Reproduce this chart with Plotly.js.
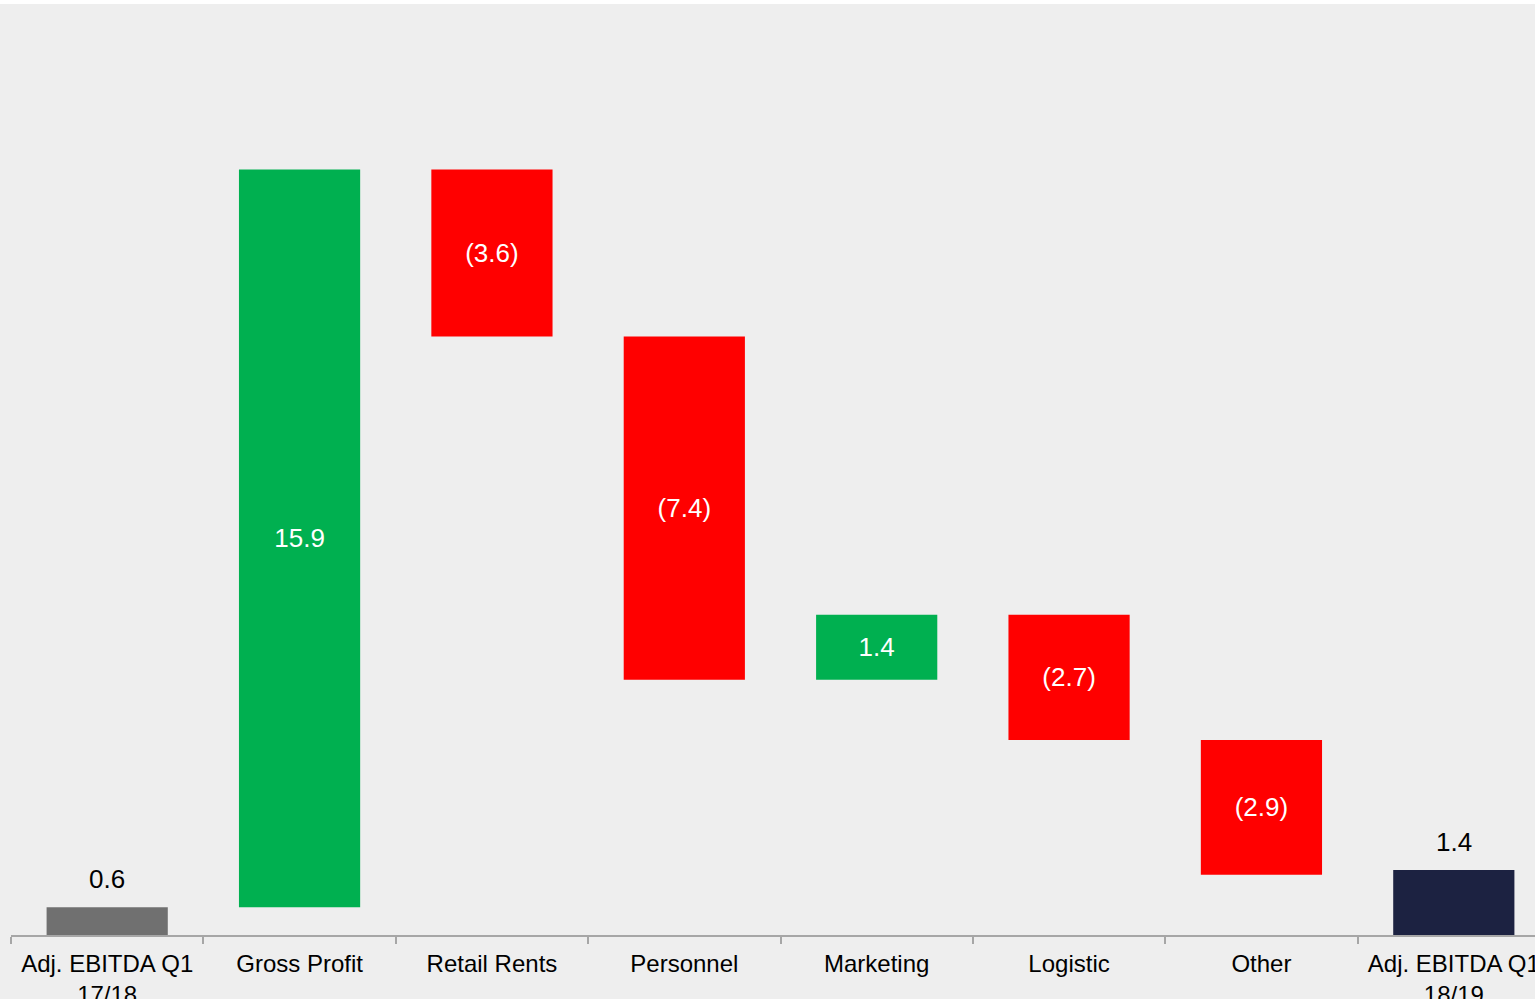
<!DOCTYPE html>
<html>
<head>
<meta charset="utf-8">
<script src="https://cdn.plot.ly/plotly-3.0.1.min.js"></script>
<style>
html,body{margin:0;padding:0;background:#ffffff;overflow:hidden;width:1535px;height:999px;}
#chart{position:absolute;left:0;top:4px;width:1552px;height:995px;}
</style>
</head>
<body>
<div id="chart"></div>
<script>
const categories = ["Adj. EBITDA Q1<br>17/18", "Gross Profit", "Retail Rents", "Personnel", "Marketing", "Logistic", "Other", "Adj. EBITDA Q1<br>18/19"];
const measures = ["absolute", "relative", "relative", "relative", "relative", "relative", "relative", "absolute"];
const values = [0.6, 15.9, -3.6, -7.4, 1.4, -2.7, -2.9, 1.4];
const barColors = ["#707070", "#00b050", "#ff0000", "#ff0000", "#00b050", "#ff0000", "#ff0000", "#1c2241"];

const FONT = "Liberation Sans, Arial, sans-serif";

// build bar bases / heights from the waterfall values
let running = 0;
const bases = [], heights = [], insideLabels = [], annotations = [];
values.forEach((v, i) => {
  const lbl = v < 0 ? "(" + Math.abs(v).toFixed(1) + ")" : v.toFixed(1);
  if (measures[i] === "absolute") {
    bases.push(0); heights.push(v); running = v;
    insideLabels.push("");
    annotations.push({
      x: categories[i], y: v, xref: "x", yref: "y",
      text: lbl, showarrow: false, yanchor: "bottom", yshift: 11,
      font: {family: FONT, size: 26, color: "#000000"}
    });
  } else {
    const start = running;
    running = running + v;
    bases.push(Math.min(start, running));
    heights.push(Math.abs(v));
    insideLabels.push(lbl);
  }
});

const trace = {
  type: "bar",
  x: categories,
  y: heights,
  base: bases,
  marker: {color: barColors},
  text: insideLabels,
  textposition: "inside",
  insidetextanchor: "middle",
  insidetextfont: {color: "#ffffff", size: 26, family: FONT},
  textangle: 0,
  cliponaxis: false,
  hoverinfo: "skip"
};

const layout = {
  width: 1552,
  height: 995,
  margin: {l: 11, r: 2, t: 3, b: 64},
  paper_bgcolor: "#eeeeee",
  plot_bgcolor: "#eeeeee",
  bargap: 0.37,
  showlegend: false,
  font: {family: FONT, color: "#000000", size: 24},
  annotations: annotations,
  xaxis: {
    type: "category",
    showline: true,
    linecolor: "#a6a6a6",
    linewidth: 2,
    ticks: "outside",
    tickson: "boundaries",
    ticklen: 7,
    tickwidth: 2,
    tickcolor: "#a6a6a6",
    ticklabelstandoff: 6,
    showgrid: false,
    zeroline: false,
    tickfont: {size: 24, color: "#000000"},
    fixedrange: true
  },
  yaxis: {
    visible: false,
    range: [0, 20],
    showgrid: false,
    zeroline: false,
    fixedrange: true
  }
};

Plotly.newPlot("chart", [trace], layout, {displayModeBar: false, staticPlot: true});
</script>
</body>
</html>
